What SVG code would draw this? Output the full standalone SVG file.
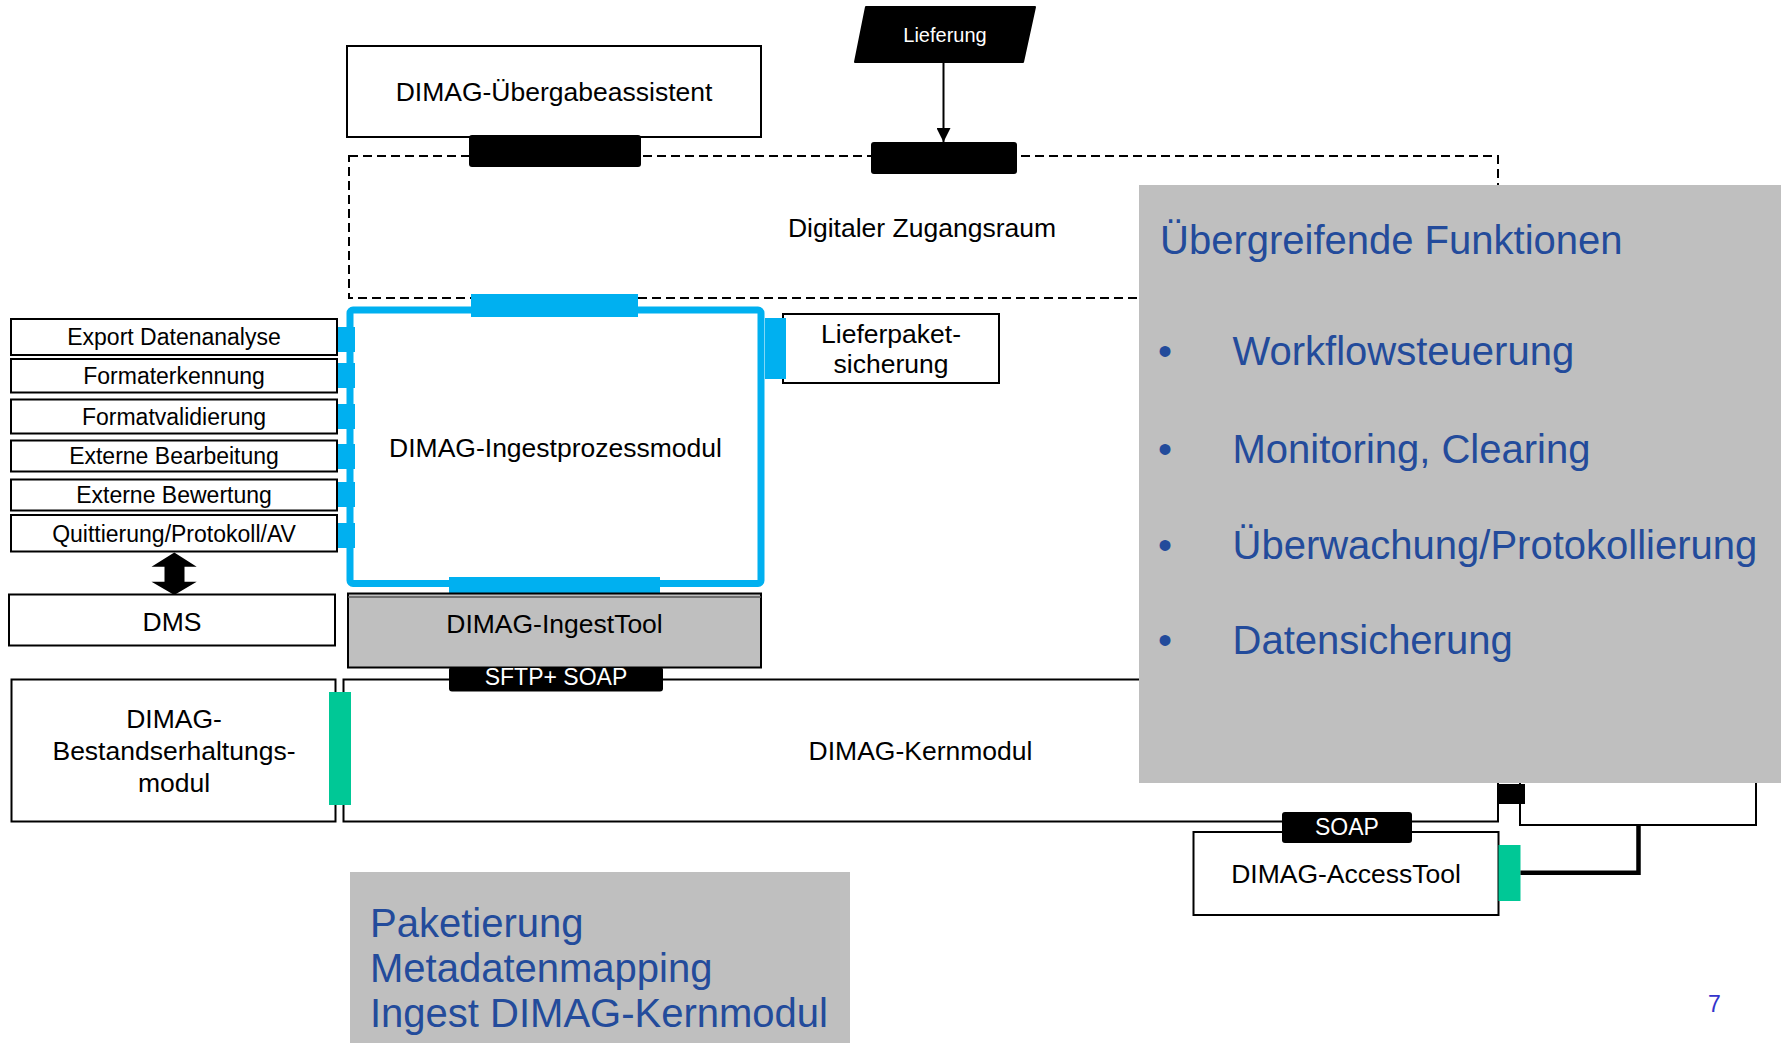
<svg xmlns="http://www.w3.org/2000/svg" width="1781" height="1043" viewBox="0 0 1781 1043">
<style>
.box{fill:#fff;stroke:#000;stroke-width:2}
.lbl{font-family:"Liberation Sans",Arial,sans-serif;font-size:26.5px;fill:#000;text-anchor:middle}
.sm{font-family:"Liberation Sans",Arial,sans-serif;font-size:23px;fill:#000;text-anchor:middle}
.wt{font-family:"Liberation Sans",Arial,sans-serif;font-size:23px;fill:#fff;text-anchor:middle}
.blk{fill:#000}
.blue{fill:#00B0F0}
.green{fill:#00C896}
.gray{fill:#BFBFBF}
.bt{font-family:"Liberation Sans",Arial,sans-serif;font-size:40px;fill:#234B9B}
.dash{fill:none;stroke:#000;stroke-width:2;stroke-dasharray:9 5}
</style>
<defs>
<marker id="ah" markerWidth="14" markerHeight="14" refX="14" refY="7" orient="auto" markerUnits="userSpaceOnUse" viewBox="0 0 14 14">
<path d="M0,0 L14,7 L0,14 Z" fill="#000"/>
</marker>
</defs>
<rect width="1781" height="1043" fill="#fff"/>

<g id="zugangsraum">
<rect class="dash" x="349" y="156" width="1149" height="142"/>
<text class="lbl" x="922" y="237">Digitaler Zugangsraum</text>
</g>

<g id="uebergabeassistent">
<rect class="box" x="347" y="46" width="414" height="91"/>
<text class="lbl" x="554" y="101">DIMAG-Übergabeassistent</text>
<rect class="blk" x="469" y="135" width="172" height="32" rx="3"/>
</g>

<g id="lieferung">
<path class="blk" d="M866,7 L1035,7 L1023,62 L855,62 Z" stroke="#000" stroke-width="2" stroke-linejoin="round"/>
<text x="945" y="42" font-family="Liberation Sans, Arial, sans-serif" font-size="20" fill="#fff" text-anchor="middle">Lieferung</text>
<rect class="blk" x="871" y="142" width="146" height="32" rx="3"/>
</g>

<g id="lieferpaketsicherung">
<rect class="box" x="783" y="314" width="216" height="69"/>
<text class="lbl" x="891" y="343">Lieferpaket-</text>
<text class="lbl" x="891" y="373">sicherung</text>
</g>

<g id="ingestprozessmodul">
<rect x="350" y="310" width="411" height="273.5" rx="3" fill="#fff" stroke="#00B0F0" stroke-width="7"/>
<rect class="blue" x="471" y="294" width="167" height="23"/>
<rect class="blue" x="765" y="318" width="21" height="61"/>
<rect class="blue" x="449" y="577" width="211" height="18"/>
<rect class="blue" x="333" y="327" width="22" height="25"/>
<rect class="blue" x="333" y="363" width="22" height="25"/>
<rect class="blue" x="333" y="404" width="22" height="25"/>
<rect class="blue" x="333" y="444" width="22" height="25"/>
<rect class="blue" x="333" y="482" width="22" height="25"/>
<rect class="blue" x="333" y="523" width="22" height="25"/>
<text class="lbl" x="555.5" y="456.5">DIMAG-Ingestprozessmodul</text>
</g>

<g id="export-datenanalyse">
<rect class="box" x="11" y="319" width="326" height="36"/>
<text class="sm" x="174" y="345">Export Datenanalyse</text>
</g>
<g id="formaterkennung">
<rect class="box" x="11" y="359" width="326" height="33.5"/>
<text class="sm" x="174" y="384">Formaterkennung</text>
</g>
<g id="formatvalidierung">
<rect class="box" x="11" y="399.5" width="326" height="34"/>
<text class="sm" x="174" y="424.5">Formatvalidierung</text>
</g>
<g id="externe-bearbeitung">
<rect class="box" x="11" y="440.5" width="326" height="31"/>
<text class="sm" x="174" y="464">Externe Bearbeitung</text>
</g>
<g id="externe-bewertung">
<rect class="box" x="11" y="479.5" width="326" height="31"/>
<text class="sm" x="174" y="503">Externe Bewertung</text>
</g>
<g id="quittierung">
<rect class="box" x="11" y="515" width="326" height="36.5"/>
<text class="sm" x="174" y="541.5">Quittierung/Protokoll/AV</text>
</g>

<g id="dms">
<rect class="box" x="9" y="594.5" width="326" height="51"/>
<text class="lbl" x="172" y="630.5">DMS</text>
</g>

<g id="ingesttool">
<rect x="348" y="593.5" width="413" height="74" fill="#BFBFBF" stroke="#000" stroke-width="2"/>
<line x1="348" y1="597" x2="761" y2="597" stroke="#555" stroke-width="1.5"/>
<text class="lbl" x="554.5" y="633">DIMAG-IngestTool</text>
</g>

<g id="bestandserhaltungsmodul">
<rect class="box" x="11.5" y="679.5" width="324" height="142"/>
<text class="lbl" x="174" y="728">DIMAG-</text>
<text class="lbl" x="174" y="760">Bestandserhaltungs-</text>
<text class="lbl" x="174" y="792">modul</text>
</g>

<g id="hidden-module">
<rect x="1520" y="700" width="236" height="125" fill="none" stroke="#000" stroke-width="2"/>
</g>

<g id="kernmodul">
<rect class="box" x="343.5" y="679.5" width="1154.5" height="142"/>
<text class="lbl" x="920.5" y="760">DIMAG-Kernmodul</text>
<rect class="green" x="329" y="692" width="22" height="113"/>
<rect class="blk" x="449" y="667" width="214" height="24.5" rx="3"/>
<text class="wt" x="556" y="684.5">SFTP+ SOAP</text>
</g>

<g id="uebergreifende-funktionen">
<rect class="gray" x="1139" y="185" width="642" height="598"/>
<text class="bt" x="1160" y="254">Übergreifende Funktionen</text>
<text class="bt" x="1165" y="365" text-anchor="middle">•</text>
<text class="bt" x="1232.5" y="365">Workflowsteuerung</text>
<text class="bt" x="1165" y="462.5" text-anchor="middle">•</text>
<text class="bt" x="1232.5" y="462.5">Monitoring, Clearing</text>
<text class="bt" x="1165" y="558.5" text-anchor="middle">•</text>
<text class="bt" x="1232.5" y="558.5">Überwachung/Protokollierung</text>
<text class="bt" x="1165" y="654" text-anchor="middle">•</text>
<text class="bt" x="1232.5" y="654">Datensicherung</text>
</g>

<g id="kern-port">
<rect class="blk" x="1497" y="784" width="28" height="20"/>
</g>

<g id="accesstool">
<rect class="box" x="1193.5" y="832" width="305" height="83"/>
<text class="lbl" x="1346" y="882.5">DIMAG-AccessTool</text>
<rect class="green" x="1498.5" y="845" width="22" height="56"/>
<rect class="blk" x="1282" y="812" width="130" height="31" rx="3"/>
<text class="wt" x="1347" y="835">SOAP</text>
</g>

<g id="paketierung">
<rect class="gray" x="350" y="872" width="500" height="171"/>
<text class="bt" x="370" y="937">Paketierung</text>
<text class="bt" x="370" y="982">Metadatenmapping</text>
<text class="bt" x="370" y="1027">Ingest DIMAG-Kernmodul</text>
</g>

<g id="connectors">
<line x1="943.5" y1="62" x2="943.5" y2="142" stroke="#000" stroke-width="2" marker-end="url(#ah)"/>
<path d="M174.3,552.5 L196.7,566.7 L184.5,566.7 L184.5,581.7 L196.7,581.7 L174.3,595 L151.5,581.7 L164.5,581.7 L164.5,566.7 L151.5,566.7 Z" fill="#000"/>
<path d="M1520.5,872.7 H1638.5 V825" fill="none" stroke="#000" stroke-width="4.5"/>
</g>

<text x="1714.5" y="1011.5" font-family="Liberation Sans, Arial, sans-serif" font-size="23" fill="#3333CC" text-anchor="middle">7</text>
</svg>
